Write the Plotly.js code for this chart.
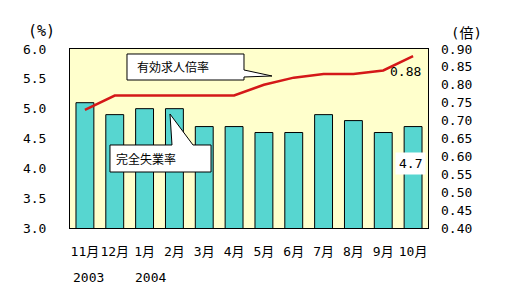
<!DOCTYPE html>
<html>
<head>
<meta charset="utf-8">
<script src="https://cdn.plot.ly/plotly-3.0.1.min.js"></script>
<style>html,body{margin:0;padding:0;background:#fff;}</style>
</head>
<body>
<div id="chart" style="width:509px;height:304px;"></div>
<script>
var months = ["11月","12月","1月","2月","3月","4月","5月","6月","7月","8月","9月","10月"];
var unemploymentRate = [5.1, 4.9, 5.0, 5.0, 4.7, 4.7, 4.6, 4.6, 4.9, 4.8, 4.6, 4.7];
var jobOpeningsRatio = [0.73, 0.77, 0.77, 0.77, 0.77, 0.77, 0.80, 0.82, 0.83, 0.83, 0.84, 0.88];
var yearLabels = ["2003", "2004"];
var leftTicks = [3.0, 3.5, 4.0, 4.5, 5.0, 5.5, 6.0];
var rightTicks = [0.40, 0.45, 0.50, 0.55, 0.60, 0.65, 0.70, 0.75, 0.80, 0.85, 0.90];

var FONT = "DejaVu Sans Mono, 'Noto Sans CJK JP', monospace";
var JFONT = "'Noto Sans CJK JP', sans-serif";
var L = 70, R = 428, T = 49, B = 228;
function px(x){ return (x - L) / (R - L); }
function py(y){ return (B - y) / (B - T); }
function path(pts){
  return pts.map(function(p, i){ return (i ? "L" : "M") + px(p[0]).toFixed(4) + "," + py(p[1]).toFixed(4); }).join(" ") + " Z";
}
function note(x, y, text, anchor, font){
  return {xref: "paper", yref: "paper", x: px(x), y: py(y), xanchor: anchor || "center", yanchor: "middle",
          text: text, showarrow: false, font: font || {family: FONT, size: 13, color: "#000"}};
}

var bars = {
  type: "bar", x: months, y: unemploymentRate, yaxis: "y",
  marker: {color: "#57d6d0", line: {color: "#000", width: 1}},
  width: 0.6, hoverinfo: "skip"
};
var line = {
  type: "scatter", mode: "lines", x: months, y: jobOpeningsRatio, yaxis: "y2",
  line: {color: "#d41818", width: 2.5}, hoverinfo: "skip"
};

var layout = {
  width: 509, height: 304,
  margin: {l: L, r: 509 - R, t: T, b: 304 - B},
  paper_bgcolor: "#ffffff", plot_bgcolor: "#ffffcc",
  showlegend: false,
  font: {family: FONT, size: 13, color: "#000"},
  xaxis: {
    type: "category", showline: true, mirror: true, linecolor: "#000", linewidth: 1,
    ticks: "", showgrid: false, ticklabelstandoff: 11, tickangle: 0,
    tickfont: {family: FONT, size: 13, color: "#000"}
  },
  yaxis: {
    range: [3, 6], tickvals: leftTicks, ticktext: leftTicks.map(function(v){return v.toFixed(1);}),
    showline: true, mirror: true, linecolor: "#000", linewidth: 1,
    ticks: "", showgrid: false, zeroline: false, ticklabelstandoff: 20,
    tickfont: {family: FONT, size: 13, color: "#000"}
  },
  yaxis2: {
    range: [0.4, 0.9], overlaying: "y", side: "right",
    tickvals: rightTicks, ticktext: rightTicks.map(function(v){return v.toFixed(2);}),
    ticks: "", showgrid: false, zeroline: false, showline: false, ticklabelstandoff: 12,
    tickfont: {family: FONT, size: 13, color: "#000"}
  },
  shapes: [
    {type: "path", xref: "paper", yref: "paper",
     path: path([[127,54],[244,54],[244,70],[272,76],[244,77],[244,80],[127,80]]),
     fillcolor: "#ffffff", line: {color: "#000", width: 1}},
    {type: "path", xref: "paper", yref: "paper",
     path: path([[110,145],[172,145],[170,114],[193,145],[211,145],[211,172],[110,172]]),
     fillcolor: "#ffffff", line: {color: "#000", width: 1}}
  ],
  annotations: [
    note(173, 66, "有効求人倍率", "center", {family: JFONT, size: 12, color: "#000"}),
    note(146, 158, "完全失業率", "center", {family: JFONT, size: 12, color: "#000"}),
    {x: months[11], y: jobOpeningsRatio[11], yref: "y2", text: jobOpeningsRatio[11].toFixed(2),
     xanchor: "center", yanchor: "middle",
     showarrow: false, xshift: -8, yshift: -15, font: {family: FONT, size: 13, color: "#000"}},
    {x: months[11], y: unemploymentRate[11], yref: "y", text: unemploymentRate[11].toFixed(1),
     xanchor: "center", yanchor: "middle",
     showarrow: false, xshift: -3, yshift: -37, bgcolor: "#ffffff", borderpad: 3,
     font: {family: FONT, size: 13, color: "#000"}},
    note(71, 277, yearLabels[0], "left"),
    note(133, 277, yearLabels[1], "left"),
    note(26, 31, "(%)", "left", {family: FONT, size: 15, color: "#000"}),
    note(449, 33, "(倍)", "left", {family: FONT, size: 14, color: "#000"})
  ]
};

Plotly.newPlot("chart", [bars, line], layout, {staticPlot: true, displayModeBar: false});
</script>
</body>
</html>
